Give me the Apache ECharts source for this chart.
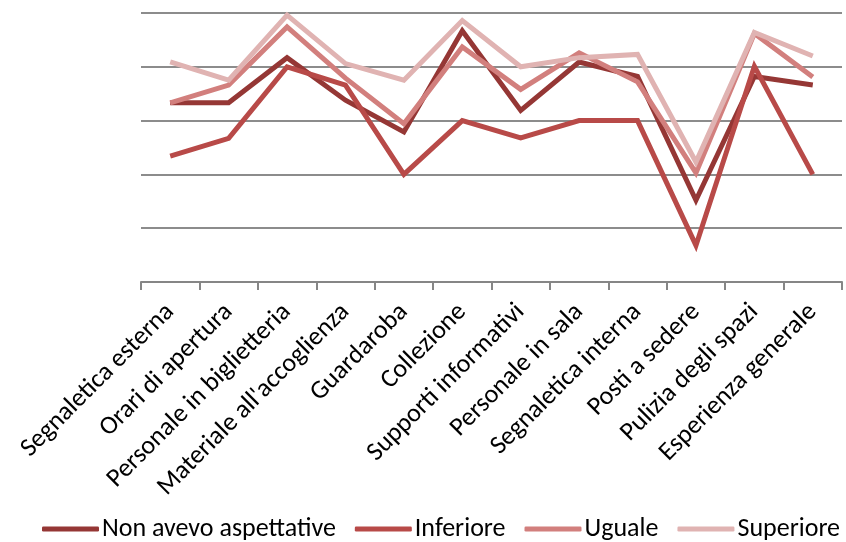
<!DOCTYPE html>
<html>
<head>
<meta charset="utf-8">
<style>
  html, body { margin: 0; padding: 0; background: #ffffff; }
  #chart { width: 846px; height: 542px; }
</style>
<script src="https://cdn.jsdelivr.net/npm/echarts@6/dist/echarts.min.js"></script>
</head>
<body>
<div id="chart"></div>
<script>
// Service areas rated by visitors
const categories = [
  'Segnaletica esterna', 'Orari di apertura', 'Personale in biglietteria',
  "Materiale all'accoglienza", 'Guardaroba', 'Collezione', 'Supporti informativi',
  'Personale in sala', 'Segnaletica interna', 'Posti a sedere',
  'Pulizia degli spazi', 'Esperienza generale'
];

// Mean score per area, grouped by how the visit compared with expectations
const nonAvevo   = [3.33, 3.33, 4.17, 3.38, 2.79, 4.67, 3.19, 4.09, 3.82, 1.52, 3.82, 3.66];
const inferiore  = [2.34, 2.67, 4.00, 3.66, 2.00, 3.00, 2.68, 3.00, 3.00, 0.68, 4.01, 2.00];
const uguale     = [3.33, 3.66, 4.74, 3.79, 2.94, 4.37, 3.58, 4.26, 3.72, 2.03, 4.62, 3.81];
const superiore  = [4.09, 3.75, 4.96, 4.06, 3.75, 4.86, 4.00, 4.17, 4.23, 2.23, 4.64, 4.20];

const seriesNames = ['Non avevo aspettative', 'Inferiore', 'Uguale', 'Superiore'];
const seriesColors = ['#953735', '#b84a48', '#d27f7d', '#e0b3b2'];
const seriesData = [nonAvevo, inferiore, uguale, superiore];

const font = 'Carlito, Lato, "Open Sans", sans-serif';

const chart = echarts.init(document.getElementById('chart'), null, { renderer: 'canvas' });

chart.setOption({
  animation: false,
  backgroundColor: '#ffffff',
  textStyle: { fontFamily: font },
  grid: { left: 141, right: 4, top: 13, bottom: 260, containLabel: false },
  legend: {
    data: seriesNames,
    left: 37,
    top: 511,
    icon: 'roundRect',
    itemWidth: 57,
    itemHeight: 5,
    itemGap: 19,
    textStyle: { fontFamily: font, fontSize: 26, color: '#000000', padding: [0, 0, 0, -2] }
  },
  xAxis: {
    type: 'category',
    data: categories,
    boundaryGap: true,
    axisLine: { lineStyle: { color: '#868686', width: 2 } },
    axisTick: { show: true, length: 8, lineStyle: { color: '#868686', width: 2 } },
    axisLabel: {
      rotate: 45,
      interval: 0,
      margin: 26,
      fontFamily: font,
      fontSize: 26,
      color: '#000000'
    }
  },
  yAxis: {
    type: 'value',
    min: 0,
    max: 5,
    interval: 1,
    axisLine: { show: false },
    axisTick: { show: false },
    axisLabel: { show: false },
    splitLine: { lineStyle: { color: '#8c8c8c', width: 2 } }
  },
  series: seriesData.map((d, i) => ({
    name: seriesNames[i],
    type: 'line',
    data: d,
    symbol: 'none',
    color: seriesColors[i],
    lineStyle: { width: 5, color: seriesColors[i], join: 'miter' }
  }))
});
</script>
</body>
</html>
